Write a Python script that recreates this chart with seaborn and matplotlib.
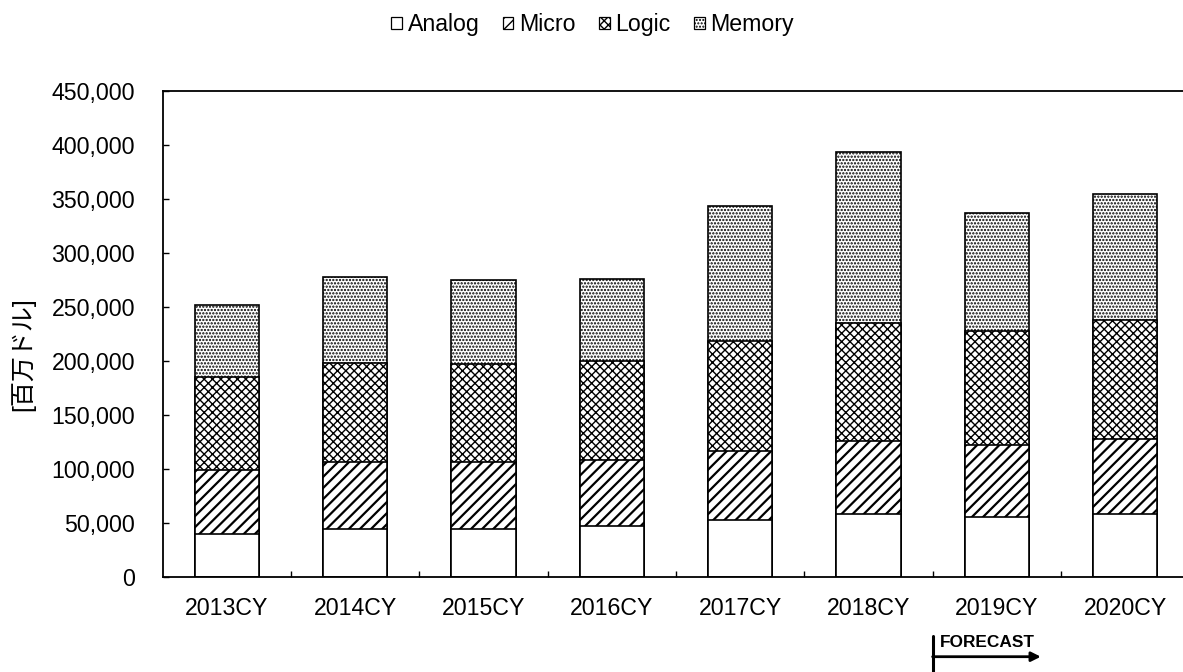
"""Stacked semiconductor market bars (2013-2020CY) with hatch fills."""
import matplotlib
matplotlib.use("Agg")
import matplotlib.pyplot as plt
import matplotlib.transforms as mtransforms
from matplotlib.patches import Patch
from matplotlib.ticker import FuncFormatter, FixedLocator
import numpy as np
import pandas as pd
import seaborn as sns

years = ["2013CY", "2014CY", "2015CY", "2016CY", "2017CY", "2018CY", "2019CY", "2020CY"]
analog = [39700, 44400, 44400, 47400, 52700, 58200, 55500, 58200]
micro = [59500, 61900, 61900, 60700, 64000, 67800, 66800, 69300]
logic = [85600, 91500, 90800, 91500, 102000, 109300, 105300, 110600]
memory = [66900, 79500, 77700, 76700, 124700, 157800, 109400, 116800]
series = ["Analog", "Micro", "Logic", "Memory"]
hatches = {"Analog": "", "Micro": "///", "Logic": "xxxx", "Memory": "....."}
hatch_lw = {"Analog": 1.0, "Micro": 1.6, "Logic": 1.0, "Memory": 1.1}


def main():
    sns.set_style("white")
    plt.rcParams["font.family"] = ["Liberation Sans", "Noto Sans CJK JP", "DejaVu Sans"]
    for k in ("text.color", "axes.labelcolor", "xtick.color", "ytick.color"):
        plt.rcParams[k] = "black"
    df = pd.DataFrame({"year": years, "Analog": analog, "Micro": micro, "Logic": logic, "Memory": memory})
    cum = df[series].cumsum(axis=1)

    fig = plt.figure(figsize=(11.83, 6.72), dpi=100)
    ax = fig.add_axes([0.1375, 0.141, 0.8678, 0.724])
    # tallest cumulative layer first, lower layers painted over it
    for name in reversed(series):
        with plt.rc_context({"hatch.linewidth": hatch_lw[name]}):
            sns.barplot(x=df["year"], y=cum[name], ax=ax, color="white", saturation=1, width=0.5,
                        edgecolor="black", linewidth=1.2, hatch=hatches[name], errorbar=None)
    ax.set_xlim(-0.5, 7.5); ax.set_ylim(0, 450000)
    ax.set_yticks(np.arange(0, 450001, 50000))
    ax.yaxis.set_major_formatter(FuncFormatter(lambda v, _: f"{int(v):,}"))
    ax.xaxis.set_minor_locator(FixedLocator(np.arange(0.5, 7, 1)))
    ax.tick_params(axis="y", direction="in", length=4, width=1, labelsize=16.7, pad=20, left=True)
    ax.tick_params(axis="x", which="major", length=0, labelsize=16.7, pad=14)
    ax.tick_params(axis="x", which="minor", direction="in", length=4, width=1, bottom=True)
    ax.set_xlabel(""); ax.set_ylabel("")
    fig.text(23 / 1183, 1 - 354 / 672, "[百万ドル]", rotation=90, fontsize=18, ha="center", va="center")
    for s in ax.spines.values():
        s.set_color("black"); s.set_linewidth(1.3)

    handles = []
    for n in series:
        with plt.rc_context({"hatch.linewidth": min(hatch_lw[n], 1.0)}):
            handles.append(Patch(facecolor="white", edgecolor="black", linewidth=0.9, hatch=hatches[n]))
    fig.legend(handles, series, loc="center", bbox_to_anchor=(0.501, 0.963), ncol=4, frameon=False,
               fontsize=16.7, handlelength=0.46, handleheight=0.46, handletextpad=0.25, columnspacing=1.0)

    tr = mtransforms.blended_transform_factory(ax.transData, fig.transFigure)
    ax.plot([5.5, 5.5], [1 - 636 / 672, 0.0], transform=tr, color="black", lw=2.2, clip_on=False)
    ax.annotate("", xy=(6.343, 1 - 656.7 / 672), xytext=(5.5, 1 - 656.7 / 672), xycoords=tr, textcoords=tr,
                arrowprops=dict(arrowstyle="-|>", color="black", lw=2, mutation_scale=14, shrinkA=0, shrinkB=0))
    ax.text(5.56, 1 - 642.2 / 672, "FORECAST", transform=tr, fontsize=12.4, fontweight="bold",
            va="center", ha="left")

    fig.savefig("out.png", dpi=100)
    plt.close(fig)


if __name__ == "__main__":
    main()
